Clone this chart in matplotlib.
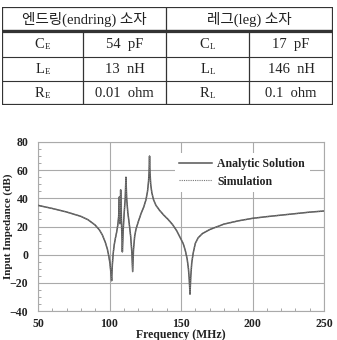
import matplotlib
matplotlib.use("Agg")
import matplotlib.pyplot as plt
from matplotlib.ticker import MultipleLocator

# ---- table data ----
header = ["엔드링(endring) 소자", "레그(leg) 소자"]
row_syms_e = [("C", "E"), ("L", "E"), ("R", "E")]
row_vals_e = ["54  pF", "13  nH", "0.01  ohm"]
row_syms_l = [("C", "L"), ("L", "L"), ("R", "L")]
row_vals_l = ["17  pF", "146  nH", "0.1  ohm"]

# ---- chart data ----
freq = [50, 60, 70, 80, 85, 90, 93, 95, 97, 98.5, 99.5, 100.3, 100.9, 101.5, 102.0,
        102.6, 103.3, 104, 105, 105.8, 106.4, 106.9, 107.3, 107.8, 108.3, 109.0,
        109.6, 110.3, 111.0, 111.5, 112.0, 112.8, 113.8, 114.8, 115.6, 116.2,
        116.8, 117.6, 118.5, 120, 122, 124, 125.5, 126.6, 127.3, 127.7, 128.0,
        128.3, 128.8, 129.6, 130.8, 132.5, 135, 138, 141, 144, 147, 149.5, 151.5,
        153, 154.3, 155.2, 155.8, 156.3, 156.8, 157.5, 158.5, 160, 162, 165, 170,
        180, 190, 200, 210, 225, 240, 250]
analytic_db = [35, 32.8, 30.3, 27.2, 24.8, 21, 17.5, 14, 9, 4, -1, -6, -12, -18.5, -7,
               1, 7, 11, 16, 21, 27, 41, 22, 46, 26, 2,
               18, 30, 40, 55, 40, 30, 22, 13, 2, -12,
               4, 13, 18, 23, 29, 34, 39, 45, 52, 59, 70,
               59, 50, 44, 39, 35, 31.5, 28, 25, 21.5, 17, 12, 8,
               3, -3, -10, -18, -28, -16, -6, 1, 8, 12, 15, 17.8,
               21.7, 24, 25.8, 27, 28.6, 30.2, 31]
simulation_db = list(analytic_db)

xticks = [50, 100, 150, 200, 250]
yticks = [-40, -20, 0, 20, 40, 60, 80]

serif = ["Liberation Serif", "Noto Sans CJK KR", "DejaVu Sans"]
plt.rcParams["font.family"] = serif

W, H = 337, 340
fig = plt.figure(figsize=(W / 100, H / 100), dpi=100)

# ---------- table ----------
tx0, tx1 = 2, 333
ty0, ty1 = 7, 105
tab = fig.add_axes([tx0 / W, 1 - ty1 / H, (tx1 - tx0) / W, (ty1 - ty0) / H])
tab.set_xlim(tx0, tx1)
tab.set_ylim(ty1, ty0)
tab.axis("off")
rows_y = [7, 31.5, 57, 81, 105]
cols_x = [2, 83, 166, 249, 333]
lc = "#333333"
tab.plot([tx0, tx1], [rows_y[0]] * 2, color=lc, lw=1.6)
tab.plot([tx0, tx1], [rows_y[1] - 1] * 2, color=lc, lw=1.0)
tab.plot([tx0, tx1], [rows_y[1] + 0.8] * 2, color=lc, lw=1.6)
tab.plot([tx0, tx1], [rows_y[2]] * 2, color=lc, lw=0.8)
tab.plot([tx0, tx1], [rows_y[3]] * 2, color=lc, lw=0.8)
tab.plot([tx0, tx1], [rows_y[4]] * 2, color=lc, lw=1.6)
tab.plot([cols_x[0]] * 2, [ty0, ty1], color=lc, lw=0.9)
tab.plot([cols_x[4]] * 2, [ty0, ty1], color=lc, lw=1.6)
tab.plot([cols_x[2]] * 2, [ty0, ty1], color=lc, lw=0.9)
tab.plot([cols_x[1]] * 2, [rows_y[1], ty1], color=lc, lw=0.9)
tab.plot([cols_x[3]] * 2, [rows_y[1], ty1], color=lc, lw=0.9)

fs_t = 10.5
tc = "#222222"
tab.text((cols_x[0] + cols_x[2]) / 2, (rows_y[0] + rows_y[1]) / 2, header[0],
         ha="center", va="center", fontsize=fs_t, color=tc)
tab.text((cols_x[2] + cols_x[4]) / 2, (rows_y[0] + rows_y[1]) / 2, header[1],
         ha="center", va="center", fontsize=fs_t, color=tc)


def sym(x, y, s, sub):
    tab.text(x + 2, y, s, ha="right", va="center", fontsize=fs_t, color=tc)
    tab.text(x + 2, y + 2.5, sub, ha="left", va="center", fontsize=6.5, color=tc)


for i in range(3):
    yc = (rows_y[i + 1] + rows_y[i + 2]) / 2 + 0.5
    s, sub = row_syms_e[i]
    sym((cols_x[0] + cols_x[1]) / 2, yc, s, sub)
    tab.text((cols_x[1] + cols_x[2]) / 2, yc, row_vals_e[i],
             ha="center", va="center", fontsize=fs_t, color=tc)
    s, sub = row_syms_l[i]
    sym((cols_x[2] + cols_x[3]) / 2, yc, s, sub)
    tab.text((cols_x[3] + cols_x[4]) / 2, yc, row_vals_l[i],
             ha="center", va="center", fontsize=fs_t, color=tc)

# ---------- chart ----------
ax0, ax1 = 38, 324
ay0, ay1 = 142, 311
ax = fig.add_axes([ax0 / W, 1 - ay1 / H, (ax1 - ax0) / W, (ay1 - ay0) / H])
ax.plot(freq, analytic_db, color="#555555", lw=1.1, label="Analytic Solution", zorder=3)
ax.plot(freq, simulation_db, color="#777777", lw=0.8, ls=(0, (1, 1)),
        label="Simulation", zorder=4)
ax.set_xlim(50, 250)
ax.set_ylim(-40, 80)
ax.set_xticks(xticks)
ax.set_yticks(yticks)
ax.xaxis.set_minor_locator(MultipleLocator(10))
ax.yaxis.set_minor_locator(MultipleLocator(5))
ax.tick_params(which="both", direction="in", color="#999999", labelsize=8.5)
ax.tick_params(axis="y", which="major", length=0, pad=7)
ax.tick_params(axis="x", which="major", length=0, pad=5)
ax.tick_params(which="minor", length=2.5)
for lab in ax.get_xticklabels() + ax.get_yticklabels():
    lab.set_fontweight("bold")
    lab.set_color(tc)
ax.grid(True, which="major", color="#aaaaaa", lw=0.8)
ax.set_axisbelow(True)
for sp in ax.spines.values():
    sp.set_color("#aaaaaa")
    sp.set_linewidth(0.8)
ax.set_xlabel("Frequency (MHz)", fontsize=8.5, fontweight="bold", color=tc)
ax.xaxis.set_label_coords(0.5, -18 / (ay1 - ay0))
ax.xaxis.label.set_va("top")
ax.set_ylabel("Input Impedance (dB)", fontsize=8, fontweight="bold", color=tc)
ax.yaxis.set_label_coords(-25 / (ax1 - ax0), 0.5)
leg = ax.legend(loc="upper right", bbox_to_anchor=(0.97, 0.97), frameon=True,
                fancybox=False, edgecolor="none", facecolor="white", framealpha=1,
                prop={"family": serif, "weight": "bold", "size": 8.5},
                handlelength=2.8, handletextpad=0.4, labelspacing=0.5,
                borderpad=0.4)
for t in leg.get_texts():
    t.set_color(tc)

fig.savefig("out.png", dpi=100)
